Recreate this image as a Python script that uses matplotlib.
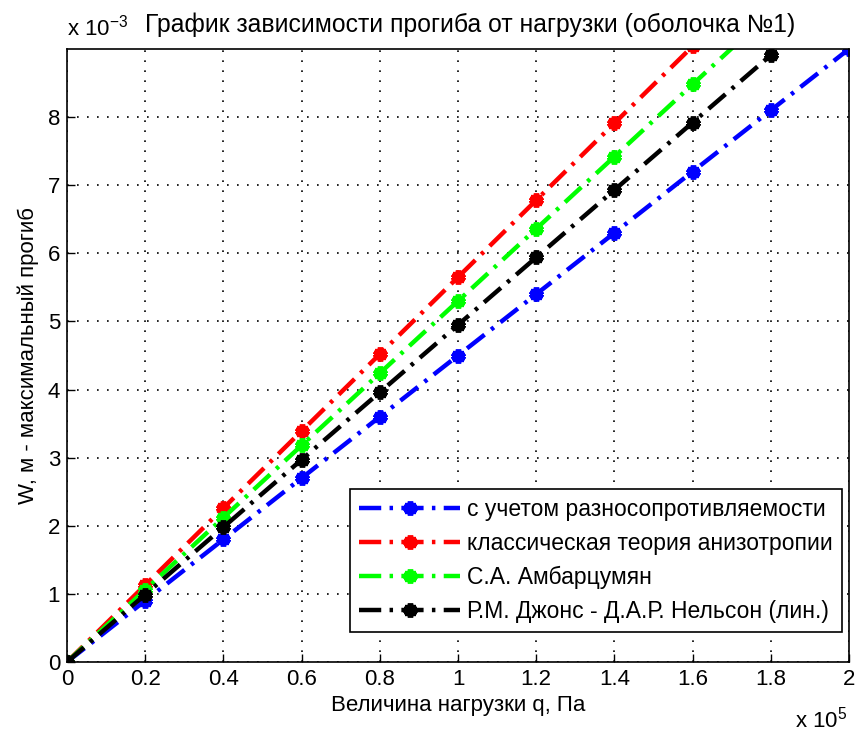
import matplotlib
matplotlib.use("Agg")
import matplotlib.pyplot as plt
import numpy as np

plt.rcParams['font.family'] = ['Liberation Sans', 'DejaVu Sans']
plt.rcParams['mathtext.fontset'] = 'custom'
plt.rcParams['mathtext.rm'] = 'Liberation Sans'
plt.rcParams['lines.scale_dashes'] = False

# Load q, units of 1e5 Pa
q_blue = [0, 0.2, 0.4, 0.6, 0.8, 1.0, 1.2, 1.4, 1.6, 1.8, 2.0]
q_red = [0, 0.2, 0.4, 0.6, 0.8, 1.0, 1.2, 1.4, 1.6]
q_green = [0, 0.2, 0.4, 0.6, 0.8, 1.0, 1.2, 1.4, 1.6, 1.8]
q_black = [0, 0.2, 0.4, 0.6, 0.8, 1.0, 1.2, 1.4, 1.6, 1.8]

# Max deflection W, units of 1e-3 m
w_blue = [0, 0.90, 1.80, 2.70, 3.60, 4.50, 5.40, 6.30, 7.20, 8.10, 9.00]
w_red = [0, 1.13, 2.26, 3.39, 4.52, 5.65, 6.78, 7.91, 9.04]
w_green = [0, 1.06, 2.12, 3.18, 4.24, 5.30, 6.36, 7.42, 8.48, 9.54]
w_black = [0, 0.99, 1.98, 2.97, 3.96, 4.95, 5.94, 6.93, 7.92, 8.91]

labels = ['с учетом разносопротивляемости',
          'классическая теория анизотропии',
          'С.А. Амбарцумян',
          'Р.М. Джонс - Д.А.Р. Нельсон (лин.)']
colors = ['#0000ff', '#ff0000', '#00ff00', '#000000']

xticks = [0, 0.2, 0.4, 0.6, 0.8, 1.0, 1.2, 1.4, 1.6, 1.8, 2.0]
xticklabels = ['0', '0.2', '0.4', '0.6', '0.8', '1', '1.2', '1.4', '1.6', '1.8', '2']
yticks = [0, 1, 2, 3, 4, 5, 6, 7, 8]
yticklabels = ['0', '1', '2', '3', '4', '5', '6', '7', '8']

FS = 16

fig = plt.figure(figsize=(8.56, 7.37), dpi=100)
ax = fig.add_axes([67/856, (737-662)/737, (849-67)/856, (662-49)/737])

series = [(q_blue, w_blue), (q_red, w_red), (q_green, w_green), (q_black, w_black)]
for (q, w), c, lab in zip(series, colors, labels):
    ax.plot(q, w, color=c, lw=3.2, linestyle=(0, (16, 6, 2.5, 6)),
            dash_capstyle='butt', marker=(6, 2, 0), markersize=10,
            markeredgewidth=4, markeredgecolor=c, markerfacecolor=c,
            label=lab)

ax.set_xlim(0, 2)
ax.set_ylim(0, 9)
ax.set_xticks(xticks)
ax.set_xticklabels(xticklabels)
ax.set_yticks(yticks)
ax.set_yticklabels(yticklabels)
ax.tick_params(direction='in', length=6, width=1, labelsize=FS, pad=5,
               top=False, right=False)
ax.grid(True, color='black', linestyle=(0, (1.2, 6)), linewidth=1.2)
for s in ax.spines.values():
    s.set_linewidth(1.2)

ax.set_xlabel('Величина нагрузки q, Па', fontsize=FS, labelpad=4)
ax.set_ylabel('W, м - максимальный прогиб', fontsize=FS, labelpad=6)
ax.set_title('График зависимости прогиба от нагрузки (оболочка №1)',
             fontsize=17.8, pad=12, x=(470-67)/782)

fig.text(67/856, 1 - 28/737, r'x 10$^{\mathrm{-3}}$', fontsize=FS, ha='left', va='center')
fig.text(795/856, 1 - 720/737, r'x 10$^{\mathrm{5}}$', fontsize=FS, ha='left', va='center')

leg = ax.legend(loc='lower right', bbox_to_anchor=((842-67)/782, (662-632)/613),
                fontsize=16.5, frameon=True, fancybox=False,
                edgecolor='black', framealpha=1, borderpad=0.4,
                handlelength=4.4, labelspacing=0.47, borderaxespad=0.0,
                handletextpad=0.3)
leg.get_frame().set_linewidth(1.2)

fig.savefig('out.png', dpi=100)
